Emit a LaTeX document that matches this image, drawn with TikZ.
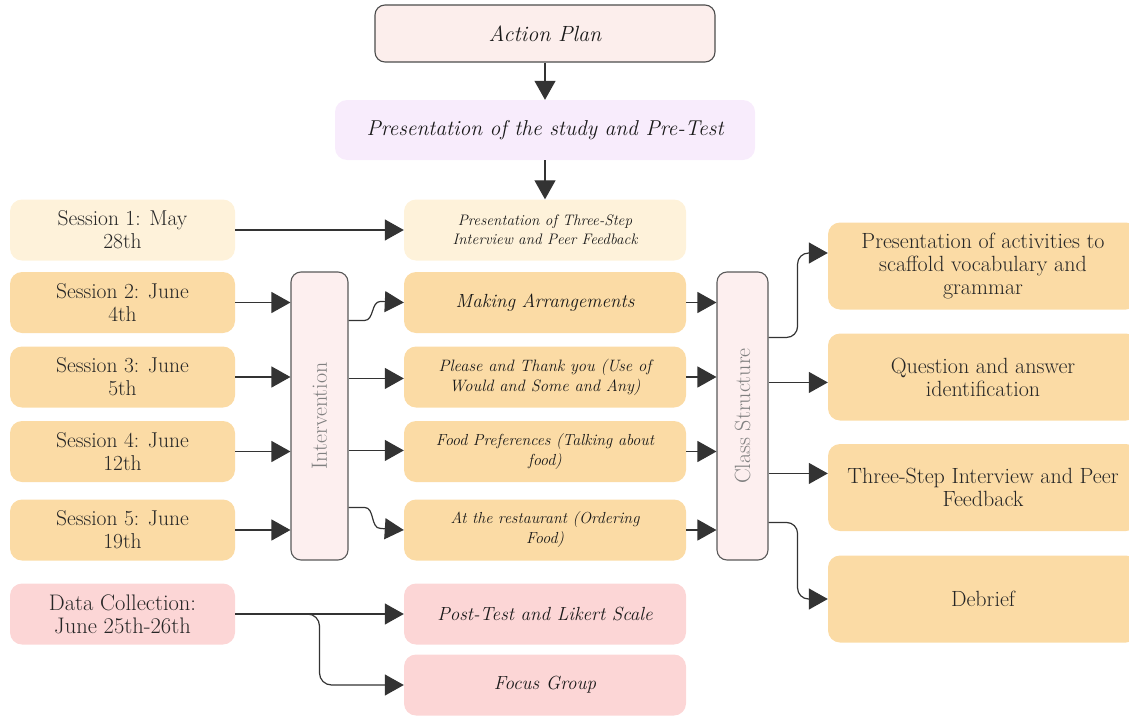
\documentclass[tikz,border=0pt]{standalone}
\usetikzlibrary{arrows.meta,calc}
\definecolor{cream}{HTML}{FEF2DA}
\definecolor{apricot}{HTML}{FBDBA5}
\definecolor{blush}{HTML}{FCD6D6}
\definecolor{rosewhite}{HTML}{FDEFEF}
\definecolor{planpink}{HTML}{FCEEEC}
\definecolor{lilac}{HTML}{F8ECFC}
\definecolor{ink}{HTML}{333333}
\begin{document}
\begin{tikzpicture}[x=1pt,y=-1pt,
    box/.style={rectangle,rounded corners=12pt,inner sep=2pt,align=center,
      text=black!85,font=\fontsize{21.5}{23}\selectfont},
    itbox/.style={box,font=\fontsize{19}{23}\selectfont\itshape,text=black!90},
    bar/.style={rectangle,rounded corners=10pt,draw=black!65,line width=1.1pt,fill=rosewhite},
    barlabel/.style={text=black!50,font=\fontsize{22}{23}\selectfont,rotate=90},
    arr/.style={draw=ink,line width=1.2pt,-{Triangle[length=19pt,width=21pt]}}]
  \useasboundingbox (0,0) rectangle (1129,717);
  % top of the plan
  \node[itbox,draw=black!70,line width=1.1pt,fill=planpink,rounded corners=10pt,
    minimum width=340pt,minimum height=57pt,font=\fontsize{22}{24}\selectfont\itshape]
    (plan) at (545,33.5) {Action Plan};
  \node[itbox,fill=lilac,minimum width=420pt,minimum height=60pt,
    font=\fontsize{21.5}{24}\selectfont\itshape] (study) at (545,130)
    {Presentation of the study and Pre-Test};
  % sessions
  \begin{scope}[every node/.append style={minimum width=225pt,minimum height=61pt}]
    \node[box,fill=cream] (s1) at (122.5,230) {Session 1: May\\28th};
    \node[box,fill=apricot] (s2) at (122.5,302.5) {Session 2: June\\4th};
    \node[box,fill=apricot] (s3) at (122.5,377) {Session 3: June\\5th};
    \node[box,fill=apricot] (s4) at (122.5,451.5) {Session 4: June\\12th};
    \node[box,fill=apricot] (s5) at (122.5,530) {Session 5: June\\19th};
    \node[box,fill=blush,font=\fontsize{22.5}{23}\selectfont] (dc) at (122.5,614)
      {Data Collection:\\June 25th-26th};
  \end{scope}
  \node[bar,minimum width=57pt,minimum height=288pt] (interv) at (319.5,416) {};
  \node[barlabel] at (interv.center) {Intervention};
  \node[bar,minimum width=51pt,minimum height=288pt] (cls) at (742.5,416) {};
  \node[barlabel] at (cls.center) {Class Structure};
  % lessons
  \begin{scope}[every node/.append style={minimum width=282pt,minimum height=61pt}]
    \node[itbox,fill=cream,font=\fontsize{15.2}{19}\selectfont\itshape] (tsi) at (545,230)
      {Presentation of Three-Step\\Interview and Peer Feedback};
    \node[itbox,fill=apricot] (ma) at (545,302.5) {Making Arrangements};
    \node[itbox,fill=apricot,font=\fontsize{16.5}{20}\selectfont\itshape] (pt) at (545,377)
      {Please and Thank you (Use of\\Would and Some and Any)};
    \node[itbox,fill=apricot,font=\fontsize{16}{20}\selectfont\itshape] (fp) at (545,451.5)
      {Food Preferences (Talking about\\food)};
    \node[itbox,fill=apricot,font=\fontsize{16}{20}\selectfont\itshape] (rest) at (545,530)
      {At the restaurant (Ordering\\Food)};
    \node[itbox,fill=blush] (post) at (545,614) {Post-Test and Likert Scale};
    \node[itbox,fill=blush] (focus) at (545,685) {Focus Group};
  \end{scope}
  % class structure steps
  \begin{scope}[every node/.append style={minimum width=310pt,minimum height=87pt}]
    \node[box,fill=apricot,font=\fontsize{22}{23}\selectfont] (act) at (983,266)
      {Presentation of activities to\\scaffold vocabulary and\\grammar};
    \node[box,fill=apricot,font=\fontsize{22}{23}\selectfont] (qa) at (983,377)
      {Question and answer\\identification};
    \node[box,fill=apricot,font=\fontsize{22}{23}\selectfont] (tsr) at (983,487.5)
      {Three-Step Interview and Peer\\Feedback};
    \node[box,fill=apricot,font=\fontsize{22}{23}\selectfont] (deb) at (983,599) {Debrief};
  \end{scope}
  % ports
  \coordinate (i1) at ($(interv.north east)+(0,49)$);
  \coordinate (i2) at ($(interv.north east)+(0,107)$);
  \coordinate (i3) at ($(interv.north east)+(0,179)$);
  \coordinate (i4) at ($(interv.north east)+(0,236)$);
  \coordinate (c1) at ($(cls.north east)+(0,66)$);
  \coordinate (c2) at ($(cls.north east)+(0,111)$);
  \coordinate (c3) at ($(cls.north east)+(0,202)$);
  \coordinate (c4) at ($(cls.north east)+(0,251)$);
  % arrows
  \draw[arr] (plan) -- (study);
  \draw[arr] (study) -- (tsi);
  \draw[arr] (s1) -- (tsi);
  \foreach \s in {s2,s3,s4,s5}
    \draw[arr] (\s.east) -- (\s.east -| interv.west);
  \draw[arr] (i1) -- ++(16,0) to[out=0,in=180] ++(16,-19) -- (ma.west);
  \draw[arr] (i2) -- (i2 -| pt.west);
  \draw[arr] (i3) -- (i3 -| fp.west);
  \draw[arr] (i4) -- ++(16,0) to[out=0,in=180] ++(16,21) -- (rest.west);
  \foreach \l in {ma,pt,fp,rest}
    \draw[arr] (\l.east) -- (\l.east -| cls.west);
  \draw[arr,rounded corners=11pt] (c1) -- ++(29,0) |- ([yshift=13pt]act.west);
  \draw[arr] (c2) -- (c2 -| qa.west);
  \draw[arr] (c3) -- (c3 -| tsr.west);
  \draw[arr,rounded corners=11pt] (c4) -- ++(29,0) |- (deb.west);
  \draw[arr] (dc) -- (post);
  \draw[arr,rounded corners=12pt] (dc.east) -- ($(dc.east)!0.5!(post.west)$) |- (focus.west);
\end{tikzpicture}
\end{document}
